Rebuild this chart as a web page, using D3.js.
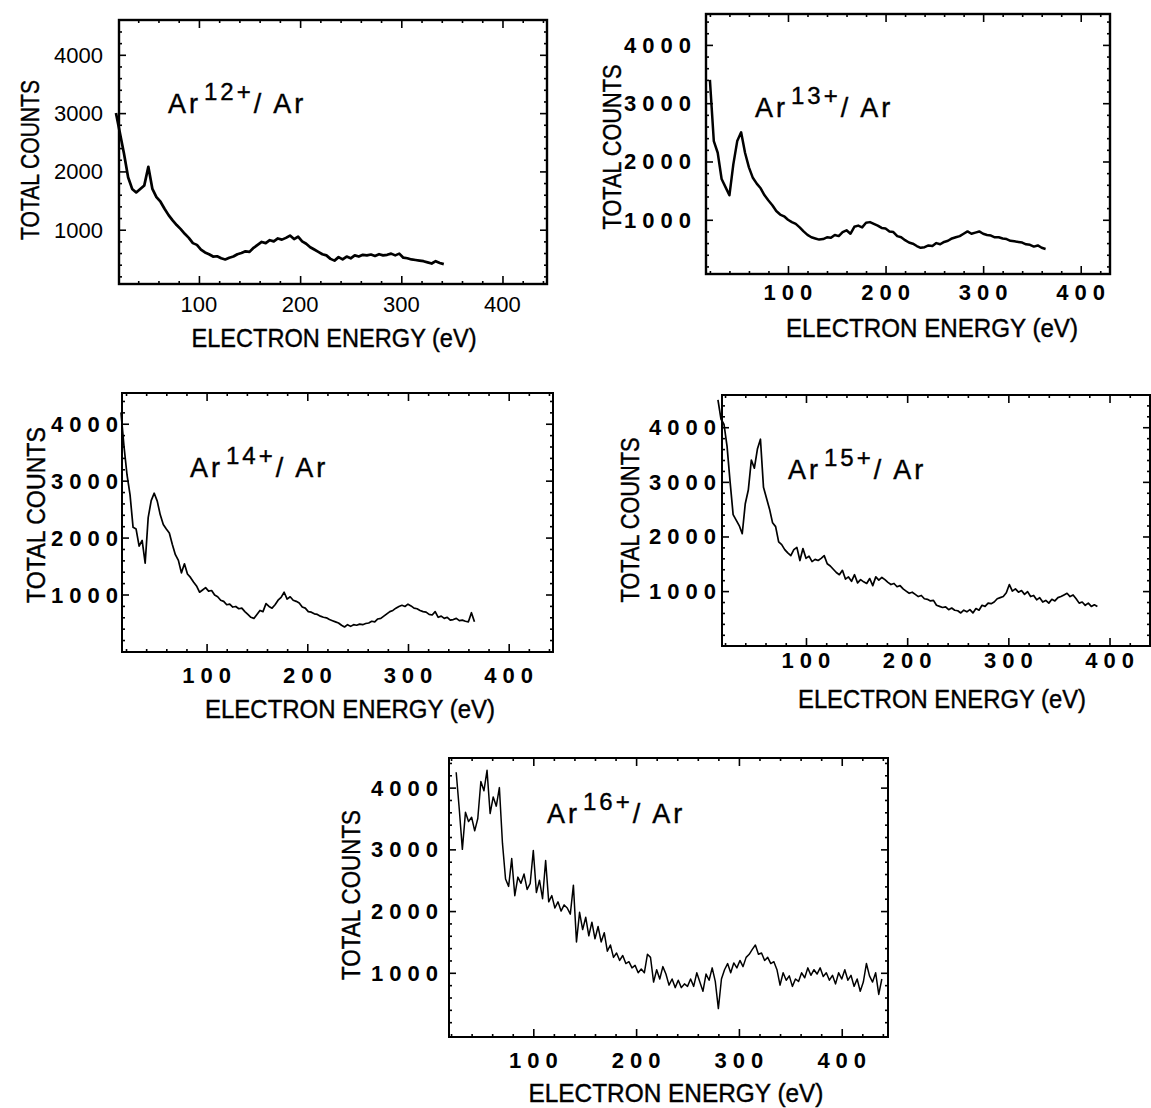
<!DOCTYPE html>
<html>
<head>
<meta charset="utf-8">
<script src="https://cdn.jsdelivr.net/npm/d3@7"></script>
<style>
  body { margin: 0; background: #fff; }
  svg { display: block; }
  text { font-family: "Liberation Sans", Arial, sans-serif; fill: #000; }
</style>
</head>
<body>
<svg id="chart" width="1151" height="1108"></svg>
<script>
const ions = ["12+", "13+", "14+", "15+", "16+"];
const xTickValues = [100, 200, 300, 400];
const yTickValues = [1000, 2000, 3000, 4000];
const xTitle = "ELECTRON ENERGY (eV)";
const yTitle = "TOTAL COUNTS";

// first channel (eV) and channel spacing of each trace
const ar12Start = 18, ar12Step = 4;
const ar12Counts = [3000,2650,2300,1900,1700,1640,1700,1760,2080,1700,1560,1480,1360,1250,1160,1080,1010,930,860,770,
  740,660,610,580,540,545,510,490,520,540,580,600,630,620,690,740,790,770,820,800,
  850,830,860,900,840,880,800,760,700,660,620,580,560,500,470,530,490,540,510,560,
  540,570,560,575,550,580,560,570,590,560,590,520,510,490,480,470,460,440,420,460,430,410];

const ar13Start = 20, ar13Step = 4;
const ar13Counts = [3400,2350,2150,1700,1560,1420,1950,2350,2500,2150,1900,1720,1620,1540,1420,1330,1250,1150,1090,1060,
  1000,960,930,870,800,740,700,680,660,670,700,690,740,720,790,820,760,880,900,870,
  950,960,930,900,860,850,800,790,720,700,650,610,590,550,520,530,560,550,600,580,
  620,640,680,700,720,760,800,760,780,800,760,740,730,700,700,680,670,640,630,620,610,580,570,540,560,520,500];

const ar14Start = 15, ar14Step = 3;
const ar14Counts = [4200,3600,3100,2750,2180,2150,1850,1950,1550,2350,2650,2780,2640,2400,2230,2150,2080,1880,1700,1600,
  1380,1540,1360,1300,1220,1150,1040,1080,1120,1060,1070,990,960,900,880,820,830,780,790,750,
  760,700,650,600,580,650,720,700,840,790,760,820,900,950,1040,920,960,900,880,850,
  780,760,700,690,660,650,620,600,590,560,540,520,500,460,430,470,440,470,460,480,
  470,490,500,530,520,570,580,620,660,700,720,760,790,810,790,830,800,760,750,720,
  700,690,650,640,700,600,620,580,600,550,560,580,540,550,530,520,680,520];

const ar15Start = 13, ar15Step = 3;
const ar15Counts = [4500,4150,4050,3650,3000,2400,2300,2200,2050,2600,2850,3400,3250,3600,3780,2900,2700,2500,2250,2180,
  1900,1850,1760,1700,1650,1760,1800,1560,1780,1600,1640,1540,1580,1560,1600,1650,1500,1460,1400,1340,
  1300,1380,1220,1260,1180,1300,1150,1210,1170,1140,1230,1100,1260,1200,1250,1210,1160,1120,1140,1080,
  1100,1040,1000,960,980,940,900,920,860,850,820,830,740,720,700,710,660,690,650,640,
  600,650,620,660,600,680,650,740,720,780,770,800,860,880,900,970,1120,1000,1040,980,
  1010,940,990,900,920,840,880,800,830,780,850,820,880,900,930,960,900,930,860,780,
  800,740,780,720,750,720];

const ar16Start = 25, ar16Step = 3;
const ar16Counts = [4250,3650,3000,3600,3450,3520,3300,3500,4100,3950,4280,3580,3850,3700,4000,3100,2520,2400,2850,2250,
  2550,2450,2600,2350,2450,2980,2300,2500,2200,2820,2150,2250,2050,2150,2000,2100,2050,1950,2420,1500,
  1980,1700,1900,1600,1820,1550,1750,1500,1650,1350,1450,1250,1320,1200,1280,1150,1180,1080,1120,1000,
  1060,1000,1300,1250,850,1050,900,1100,980,800,900,760,880,760,820,780,900,780,1000,850,
  700,980,880,1080,860,420,900,1050,1150,1000,1160,1080,1200,1100,1250,1300,1380,1450,1300,1320,
  1200,1250,1150,1180,1050,800,1000,880,950,780,900,860,1000,920,1080,960,1050,980,1080,940,
  1000,880,960,820,1000,900,1050,880,960,780,900,700,850,1150,950,850,1000,650,900];

const traces = [
  { start: ar12Start, step: ar12Step, counts: ar12Counts },
  { start: ar13Start, step: ar13Step, counts: ar13Counts },
  { start: ar14Start, step: ar14Step, counts: ar14Counts },
  { start: ar15Start, step: ar15Step, counts: ar15Counts },
  { start: ar16Start, step: ar16Step, counts: ar16Counts }
];

// page layout of the five frames
const layout = [
  { box: [119, 547, 20, 284], xDom: [21, 444], yDom: [69, 4597], spaced: false, lw: 2.7, fw: 2.4,
    yLabRight: 103, xLabBase: 312, xTitle: [334, 347, 285], yTitle: [39, 160, 160], note: [168, 113] },
  { box: [706, 1110, 14, 274], xDom: [16, 430], yDom: [70, 4530], spaced: true, lw: 2.5, fw: 2.4,
    yLabRight: 691, xLabBase: 300, xTitle: [932, 337, 292], yTitle: [621, 147, 165], note: [755, 117] },
  { box: [122, 553, 393, 652], xDom: [16, 444], yDom: [-10, 4540], spaced: true, lw: 1.7, fw: 2,
    yLabRight: 118, xLabBase: 683, xTitle: [350, 718, 290], yTitle: [45, 515, 176], note: [190, 477] },
  { box: [722, 1150, 395, 646], xDom: [17, 440], yDom: [-5, 4590], spaced: true, lw: 1.7, fw: 2,
    yLabRight: 716, xLabBase: 668, xTitle: [942, 708, 288], yTitle: [639, 520, 165], note: [788, 479] },
  { box: [449, 888, 758, 1037], xDom: [18, 445], yDom: [-40, 4480], spaced: true, lw: 1.5, fw: 2,
    yLabRight: 438, xLabBase: 1068, xTitle: [676, 1102, 295], yTitle: [360, 895, 170], note: [547, 823] }
];

const svg = d3.select("#chart");

layout.forEach((p, k) => {
  const [l, r, t, b] = p.box;
  const x = d3.scaleLinear().domain(p.xDom).range([l, r]);
  const y = d3.scaleLinear().domain(p.yDom).range([b, t]);
  const g = svg.append("g");

  const xMinor = d3.range(20, 460, 20).filter(v => v % 100 && v > p.xDom[0] && v < p.xDom[1]);
  const yMinor = d3.range(200, 4600, 200).filter(v => v % 1000 && v > p.yDom[0] && v < p.yDom[1]);

  const addAxis = (axis, tr) => {
    const a = g.append("g").attr("transform", tr).call(axis);
    a.select(".domain").remove();
    a.selectAll("line").attr("stroke", "#000").attr("stroke-width", 1.6);
  };
  // ticks point inwards on all four sides
  addAxis(d3.axisBottom(x).tickValues(xTickValues).tickSize(-8).tickFormat(""), `translate(0,${b})`);
  addAxis(d3.axisBottom(x).tickValues(xMinor).tickSize(-3).tickFormat(""), `translate(0,${b})`);
  addAxis(d3.axisTop(x).tickValues(xTickValues).tickSize(-8).tickFormat(""), `translate(0,${t})`);
  addAxis(d3.axisTop(x).tickValues(xMinor).tickSize(-3).tickFormat(""), `translate(0,${t})`);
  addAxis(d3.axisLeft(y).tickValues(yTickValues).tickSize(-7).tickFormat(""), `translate(${l},0)`);
  addAxis(d3.axisLeft(y).tickValues(yMinor).tickSize(-3).tickFormat(""), `translate(${l},0)`);
  addAxis(d3.axisRight(y).tickValues(yTickValues).tickSize(-7).tickFormat(""), `translate(${r},0)`);
  addAxis(d3.axisRight(y).tickValues(yMinor).tickSize(-3).tickFormat(""), `translate(${r},0)`);

  g.append("rect")
    .attr("x", l).attr("y", t).attr("width", r - l).attr("height", b - t)
    .attr("fill", "none").attr("stroke", "#000").attr("stroke-width", p.fw);

  const ls = p.spaced ? 6 : 0;
  const tickWeight = p.spaced ? "bold" : "normal";

  g.selectAll(".ylab").data(yTickValues).join("text")
    .attr("class", "ylab")
    .attr("x", p.yLabRight + ls).attr("y", d => y(d) + 8)
    .attr("text-anchor", "end")
    .style("font-size", "22px").style("font-weight", tickWeight)
    .style("letter-spacing", ls + "px")
    .text(d => d);

  g.selectAll(".xlab").data(xTickValues).join("text")
    .attr("class", "xlab")
    .attr("x", d => x(d) + ls / 2).attr("y", p.xLabBase)
    .attr("text-anchor", "middle")
    .style("font-size", "22px").style("font-weight", tickWeight)
    .style("letter-spacing", ls + "px")
    .text(d => d);

  const [xc, xb, xl] = p.xTitle;
  g.append("text")
    .attr("x", xc - xl / 2).attr("y", xb)
    .attr("textLength", xl).attr("lengthAdjust", "spacingAndGlyphs")
    .style("font-size", "25px")
    .style("stroke", "#000").style("stroke-width", 0.4)
    .text(xTitle);

  const [yx, yc, yl] = p.yTitle;
  g.append("text")
    .attr("transform", `translate(${yx},${yc + yl / 2}) rotate(-90)`)
    .attr("textLength", yl).attr("lengthAdjust", "spacingAndGlyphs")
    .style("font-size", "25px")
    .style("stroke", "#000").style("stroke-width", 0.4)
    .text(yTitle);

  const note = g.append("text")
    .attr("x", p.note[0]).attr("y", p.note[1])
    .style("font-size", "27px").style("letter-spacing", "3px")
    .style("stroke", "#000").style("stroke-width", 0.4);
  note.append("tspan").text("Ar");
  note.append("tspan").attr("dx", 3).attr("dy", -13).style("font-size", "24px").text(ions[k]);
  note.append("tspan").attr("dy", 13).text("/ Ar");

  const tr = traces[k];
  const line = d3.line()
    .x((d, i) => x(tr.start + i * tr.step))
    .y(d => y(d));
  g.append("path")
    .datum(tr.counts)
    .attr("d", line)
    .attr("fill", "none")
    .attr("stroke", "#000")
    .attr("stroke-width", p.lw)
    .attr("stroke-linejoin", "round");
});
</script>
</body>
</html>
